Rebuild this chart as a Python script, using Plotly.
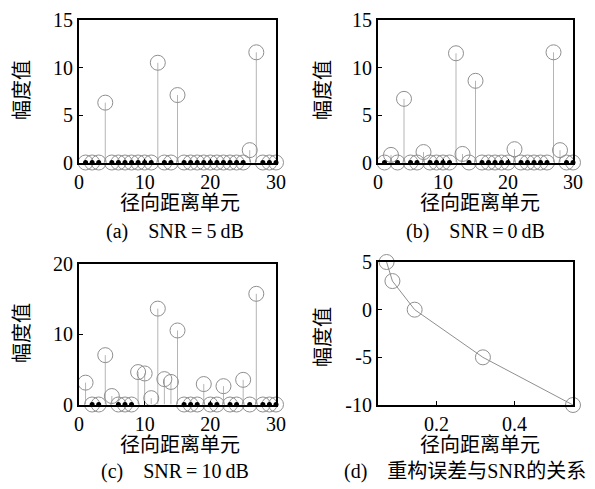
import plotly.graph_objects as go

# ---------------- data ----------------
cells = [1, 2, 3, 4, 5, 6, 7, 8, 9, 10, 11, 12, 13, 14, 15,
         16, 17, 18, 19, 20, 21, 22, 23, 24, 25, 26, 27, 28, 29, 30]

# (a) SNR = 5 dB
amp_a = [0, 0, 0, 6.3, 0, 0, 0, 0, 0, 0, 0, 10.5, 0, 0, 7.1,
         0, 0, 0, 0, 0, 0, 0, 0, 0, 0, 1.3, 11.6, 0, 0, 0]
# (b) SNR = 0 dB
amp_b = [0, 0.8, 0, 6.7, 0, 0, 1.1, 0, 0, 0, 0, 11.5, 0.9, 0, 8.6,
         0, 0, 0, 0, 0, 1.4, 0, 0, 0, 0, 0, 11.6, 1.3, 0, 0]
# (c) SNR = 10 dB
amp_c = [3.1, 0, 0, 7.0, 1.2, 0, 0, 0, 4.6, 4.4, 0.9, 13.6, 3.6, 3.2, 10.5,
         0, 0, 0, 2.9, 0, 0, 2.6, 0, 0, 3.5, 0, 15.7, 0, 0, 0]
# (d) reconstruction error vs SNR
recon_err = [0.072, 0.087, 0.144, 0.319, 0.55]
snr_db = [5, 3, 0, -5, -10]

y_title = "幅度值"
x_title = "径向距离单元"
captions = ["(a)\u2003SNR\u2009=\u20095\u2009dB",
            "(b)\u2003SNR\u2009=\u20090\u2009dB",
            "(c)\u2003SNR\u2009=\u200910\u2009dB",
            "(d)\u2003重构误差与SNR的关系"]

# ---------------- style ----------------
OFF = 8                      # page body margin of the browser
W, H = 595 - OFF, 489 - OFF  # figure fits the window exactly
FONT = "Liberation Serif, Times New Roman, Noto Sans CJK SC, serif"
CIRC = "#8f8f8f"
STEM = "#b5b5b5"

fig = go.Figure()


def stem_panel(amp, xa, ya):
    sx, sy = [], []
    for c, v in zip(cells, amp):
        if v != 0:
            sx += [c, c, None]
            sy += [0, v, None]
    fig.add_trace(go.Scatter(x=sx, y=sy, mode="lines", xaxis=xa, yaxis=ya,
                             line=dict(color=STEM, width=1), hoverinfo="skip",
                             showlegend=False))
    fig.add_trace(go.Scatter(x=cells, y=amp, mode="markers", xaxis=xa, yaxis=ya,
                             marker=dict(symbol="circle-open", size=15,
                                         color=CIRC, line=dict(width=1, color=CIRC)),
                             cliponaxis=False, showlegend=False))
    zx = [c for c, v in zip(cells, amp) if v == 0]
    zy = [0 for _ in zx]
    fig.add_trace(go.Scatter(x=zx, y=zy, mode="markers", xaxis=xa, yaxis=ya,
                             marker=dict(symbol="circle", size=5, color="black"),
                             cliponaxis=False, showlegend=False))


stem_panel(amp_a, "x", "y")
stem_panel(amp_b, "x2", "y2")
stem_panel(amp_c, "x3", "y3")

fig.add_trace(go.Scatter(x=recon_err, y=snr_db, mode="lines+markers",
                         xaxis="x4", yaxis="y4",
                         line=dict(color=CIRC, width=1),
                         marker=dict(symbol="circle-open", size=15, color=CIRC,
                                     line=dict(width=1, color=CIRC)),
                         cliponaxis=False, showlegend=False))


def px_dom(a, b, total, flip=False):
    a, b = a - OFF, b - OFF
    if flip:
        return [1 - b / total, 1 - a / total]
    return [a / total, b / total]


def px_pt(x, y):
    return (x - OFF) / W, 1 - (y - OFF) / H


axis_common = dict(showline=True, linecolor="black", linewidth=2, mirror=True,
                   ticks="inside", ticklen=4, tickcolor="black", tickwidth=1,
                   showgrid=False, zeroline=False, automargin=False,
                   tickfont=dict(family=FONT, size=20, color="black"))

xa_pos = [(79, 276), (378, 573), (79, 276), (378, 573)]
ya_pos = [(20, 162.5), (20, 162.5), (263.5, 404.5), (262, 405)]

layout = dict(width=W, height=H, margin=dict(l=0, r=0, t=0, b=0, autoexpand=False),
              paper_bgcolor="white", plot_bgcolor="white",
              font=dict(family=FONT, size=20, color="black"))

for i in range(4):
    sfx = "" if i == 0 else str(i + 1)
    xd = px_dom(*xa_pos[i], W)
    yd = px_dom(*ya_pos[i], H, flip=True)
    xa = dict(axis_common, domain=xd, anchor="y" + sfx)
    ya = dict(axis_common, domain=yd, anchor="x" + sfx)
    if i < 3:
        xa.update(range=[0, 30], tickvals=[0, 10, 20, 30])
    else:
        xa.update(range=[0.05, 0.55], tickvals=[0.2, 0.4], ticktext=["0.2", "0.4"])
    if i in (0, 1):
        ya.update(range=[0, 15], tickvals=[0, 5, 10, 15])
    elif i == 2:
        ya.update(range=[0, 20], tickvals=[0, 10, 20])
    else:
        ya.update(range=[-10, 5], tickvals=[-10, -5, 0, 5],
                  ticktext=["-10", "-5", "0", "5"])
    layout["xaxis" + sfx] = xa
    layout["yaxis" + sfx] = ya

fig.update_layout(**layout)

# axis titles and captions as annotations (pixel positions in the reference)
ylab_pos = [(22, 90), (323, 90), (22, 333), (323, 337)]
xlab_pos = [(180, 203), (480, 203), (180, 445), (480, 445)]
cap_pos = [(175, 231), (475, 231), (175, 471), (465, 471)]
ann = []
for i in range(4):
    x, y = px_pt(*ylab_pos[i])
    ann.append(dict(x=x, y=y, xref="paper", yref="paper",
                    text=y_title, showarrow=False, textangle=-90,
                    font=dict(family=FONT, size=20), xanchor="center", yanchor="middle"))
    x, y = px_pt(*xlab_pos[i])
    ann.append(dict(x=x, y=y, xref="paper", yref="paper",
                    text=x_title, showarrow=False,
                    font=dict(family=FONT, size=20), xanchor="center", yanchor="middle"))
    x, y = px_pt(*cap_pos[i])
    ann.append(dict(x=x, y=y, xref="paper", yref="paper",
                    text=captions[i], showarrow=False,
                    font=dict(family=FONT, size=20), xanchor="center", yanchor="middle"))
fig.update_layout(annotations=ann)

fig.write_html("out.html")
